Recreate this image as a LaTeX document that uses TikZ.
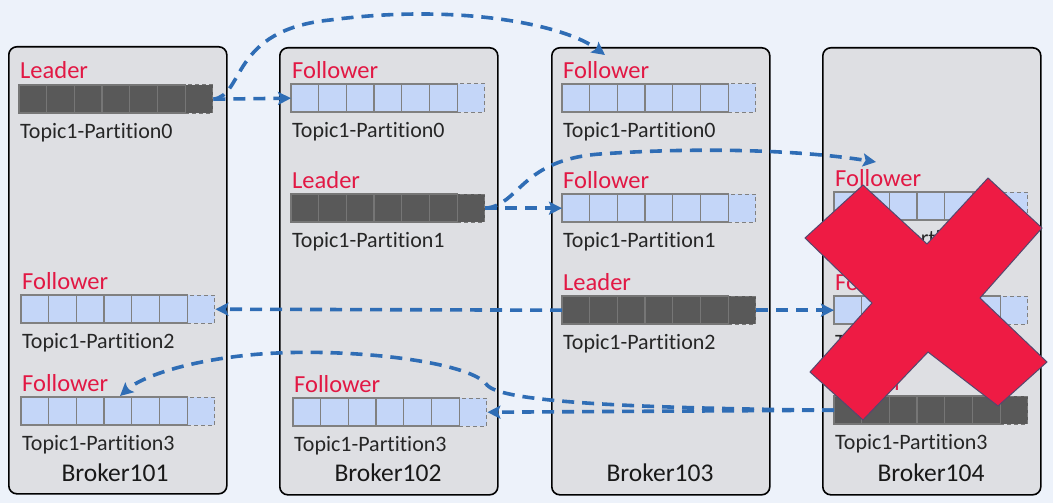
\documentclass[tikz,border=0pt]{standalone}
\usepackage{fontspec}
\setmainfont{Carlito}[RawFeature={-liga;-clig;-dlig}]
\usetikzlibrary{arrows.meta}
\definecolor{bgc}{RGB}{237,242,250}
\definecolor{boxc}{RGB}{222,223,227}
\definecolor{lblue}{RGB}{196,214,248}
\definecolor{dgray}{RGB}{89,89,89}
\definecolor{cellline}{RGB}{128,128,128}
\definecolor{darkline}{RGB}{118,118,118}
\definecolor{rolec}{RGB}{226,24,68}
\definecolor{arrc}{RGB}{47,109,181}
\definecolor{xred}{RGB}{238,27,68}
\definecolor{xedge}{RGB}{85,72,110}
\newcommand\partbar[5]{%
  \node[barbox, fill=#4] (#1) at (#2,#3) {};
  \foreach \i in {0,...,5} {\draw[draw=#5, line width=1.3pt] ({#2+\i*27.7},#3) rectangle ++(27.7,28);}
  \draw[draw=#5, line width=1pt, dash pattern=on 4pt off 3pt] ({#2+6*27.7},#3) rectangle ++(27.7,28);
}
\newcommand\rolelabel[3]{\node[rolelbl] (#1) at (#2.north west) {#3};}
\newcommand\topiclabel[3]{\node[topiclbl] (#1) at (#2.south west) {#3};}
\begin{document}
\begin{tikzpicture}[x=1pt,y=-1pt,
  brokerbox/.style={draw=black, line width=1.6pt, fill=boxc, rounded corners=8pt, minimum width=218pt, minimum height=447pt, inner sep=0pt, anchor=north west},
  barbox/.style={minimum width=194pt, minimum height=28pt, inner sep=0pt, anchor=north west, draw=none},
  rolelbl/.style={text=rolec, font=\fontsize{24.5}{28}\selectfont, anchor=base west, inner sep=0pt, yshift=6pt, xshift=1pt},
  topiclbl/.style={text=black!85, font=\fontsize{22}{26}\selectfont, anchor=base west, inner sep=0pt, yshift=-25pt, xshift=1pt},
  brokerlbl/.style={text=black!90, font=\fontsize{25.5}{30}\selectfont, anchor=base, inner sep=0pt},
  conn/.style={draw=arrc, line width=3.6pt, dash pattern=on 12pt off 8pt, -{Stealth[length=13pt,width=13pt,inset=2.5pt]}}
]
\useasboundingbox (0,0) rectangle (1053,503);
\fill[bgc] (0,0) rectangle (1053,503);

% brokers
\node[brokerbox] (B1) at (8,46) {};
\node[brokerbox] (B2) at (279,47) {};
\node[brokerbox] (B3) at (551,47) {};
\node[brokerbox] (B4) at (822,47) {};
\node[brokerlbl] (B1l) at (115,481) {Broker101};
\node[brokerlbl] (B2l) at (388,481) {Broker102};
\node[brokerlbl] (B3l) at (660,481) {Broker103};
\node[brokerlbl] (B4l) at (931,481) {Broker104};

% broker 101
\partbar{a0}{19}{85}{dgray}{darkline}
\rolelabel{a0r}{a0}{Leader}
\topiclabel{a0t}{a0}{Topic1-Partition0}
\partbar{a2}{21}{295}{lblue}{cellline}
\rolelabel{a2r}{a2}{Follower}
\topiclabel{a2t}{a2}{Topic1-Partition2}
\partbar{a3}{21}{397}{lblue}{cellline}
\rolelabel{a3r}{a3}{Follower}
\topiclabel{a3t}{a3}{Topic1-Partition3}

% broker 102
\partbar{b0}{291}{84}{lblue}{cellline}
\rolelabel{b0r}{b0}{Follower}
\topiclabel{b0t}{b0}{Topic1-Partition0}
\partbar{b1}{291}{194}{dgray}{darkline}
\rolelabel{b1r}{b1}{Leader}
\topiclabel{b1t}{b1}{Topic1-Partition1}
\partbar{b3}{293}{398}{lblue}{cellline}
\rolelabel{b3r}{b3}{Follower}
\topiclabel{b3t}{b3}{Topic1-Partition3}

% broker 103
\partbar{c0}{562}{84}{lblue}{cellline}
\rolelabel{c0r}{c0}{Follower}
\topiclabel{c0t}{c0}{Topic1-Partition0}
\partbar{c1}{562}{194}{lblue}{cellline}
\rolelabel{c1r}{c1}{Follower}
\topiclabel{c1t}{c1}{Topic1-Partition1}
\partbar{c2}{562}{296}{dgray}{darkline}
\rolelabel{c2r}{c2}{Leader}
\topiclabel{c2t}{c2}{Topic1-Partition2}

% broker 104
\partbar{d1}{834}{192}{lblue}{cellline}
\rolelabel{d1r}{d1}{Follower}
\topiclabel{d1t}{d1}{Topic1-Partition1}
\partbar{d2}{834}{296}{lblue}{cellline}
\rolelabel{d2r}{d2}{Follower}
\topiclabel{d2t}{d2}{Topic1-Partition2}
\partbar{d3}{834}{396}{dgray}{darkline}
\rolelabel{d3r}{d3}{Leader}
\topiclabel{d3t}{d3}{Topic1-Partition3}

% free ends of curved connectors
\coordinate (t0) at (605,55);
\coordinate (t1) at (876,162);
\coordinate (t3) at (120,396);

% connectors
\draw[conn] (a0.east) -- (b0.west);
\draw[conn] (a0.east) .. controls (245,95) and (230,30) .. (330,20) .. controls (460,3) and (565,25) .. (t0);
\draw[conn] (b1.east) -- (c1.west);
\draw[conn] (b1.east) .. controls (520,205) and (520,160) .. (600,154) .. controls (700,147) and (800,150) .. (t1);
\draw[conn] (c2.west) -- (a2.east);
\draw[conn] (c2.east) -- (d2.west);
\draw[conn] (d3.west) -- (b3.east);
\draw[conn] (d3.west) .. controls (600,408) and (500,400) .. (487,385) .. controls (470,360) and (330,345) .. (240,356) .. controls (180,363) and (140,378) .. (t3);

% red cross over broker 104
\draw[fill=xred, draw=xedge, line width=1pt, line join=miter]
  (805,238) -- (863,185) -- (927,244) -- (988,178) -- (1042,228) -- (980,298)
  -- (1047,362) -- (998,406) -- (928,352) -- (863,420) -- (810,372) -- (872,303) -- cycle;
\end{tikzpicture}
\end{document}
